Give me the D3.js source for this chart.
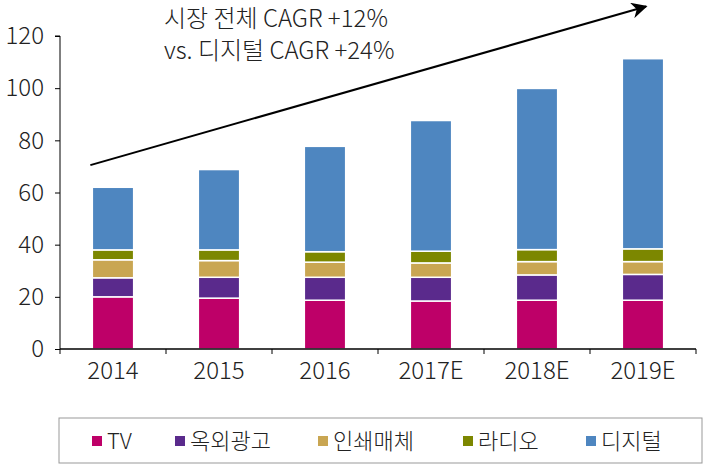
<!DOCTYPE html>
<html>
<head>
<meta charset="utf-8">
<script src="https://cdn.jsdelivr.net/npm/d3@7/dist/d3.min.js"></script>
<style>
  html, body { margin: 0; padding: 0; background: #fff; }
  svg text { font-family: "Noto Sans CJK KR", "Open Sans", sans-serif; font-weight: 300; fill: #222; }
</style>
</head>
<body>
<svg id="chart" width="704" height="469"></svg>
<script>
const categories = ["2014", "2015", "2016", "2017E", "2018E", "2019E"];
const seriesNames = ["TV", "옥외광고", "인쇄매체", "라디오", "디지털"];
const tv      = [20.0, 19.5, 18.7, 18.4, 18.7, 18.7];
const outdoor = [7.3, 8.0, 8.8, 9.1, 9.7, 9.9];
const print   = [6.9, 6.4, 5.8, 5.5, 5.1, 4.9];
const radio   = [3.8, 4.1, 4.0, 4.5, 4.6, 4.9];
const digital = [24.0, 30.8, 40.4, 50.1, 61.8, 72.9];
const yTicks  = [0, 20, 40, 60, 80, 100, 120];
const titleLines = ["시장 전체 CAGR +12%", "vs. 디지털 CAGR +24%"];
const colors = ["#BE0068", "#5A2A8C", "#C9A652", "#7C8700", "#4E86C0"];

const seriesValues = [tv, outdoor, print, radio, digital];
const table = categories.map((c, i) => {
  const row = { cat: c };
  seriesNames.forEach((s, j) => row[s] = seriesValues[j][i]);
  return row;
});

const svg = d3.select("#chart");
const mLeft = 60, mRight = 696, mTop = 36, mBottom = 349;

const x = d3.scaleBand().domain(categories).range([mLeft, mRight]).padding(0);
const y = d3.scaleLinear().domain([0, 120]).range([mBottom, mTop]);
const barW = x.bandwidth() * 0.39;

const stack = d3.stack().keys(seriesNames)(table);

svg.append("g").selectAll("g").data(stack).join("g")
  .attr("fill", (d, i) => colors[i])
  .selectAll("rect").data(d => d).join("rect")
  .attr("x", d => x(d.data.cat) + (x.bandwidth() - barW) / 2)
  .attr("width", barW)
  .attr("y", d => y(d[1]))
  .attr("height", d => y(d[0]) - y(d[1]))
  .attr("stroke", "#fff")
  .attr("stroke-width", 1.5);

// Y axis
const yAxis = svg.append("g").attr("transform", `translate(${mLeft},0)`)
  .call(d3.axisLeft(y).tickValues(yTicks).tickSize(5).tickPadding(11));
yAxis.select(".domain").attr("stroke", "#000").attr("d", `M-5,${mTop}H0V${mBottom}`);
yAxis.selectAll(".tick line").attr("stroke", "#000");
yAxis.selectAll(".tick text").style("font-size", "24px").attr("fill", "#222");

// X axis
const xAxis = svg.append("g").attr("transform", `translate(0,${mBottom})`)
  .call(d3.axisBottom(x).tickSize(0).tickPadding(13));
xAxis.select(".domain").attr("stroke", "#000").attr("stroke-width", 1.3).attr("d", `M${mLeft},0H${mRight}`);
xAxis.selectAll(".tick text").style("font-size", "24px").attr("fill", "#222");
const boundaries = categories.map(c => x(c)).concat([x(categories[categories.length - 1]) + x.bandwidth()]);
svg.append("g").selectAll("line").data(boundaries).join("line")
  .attr("x1", d => d).attr("x2", d => d)
  .attr("y1", mBottom).attr("y2", mBottom + 5)
  .attr("stroke", "#000");

// Arrow annotation
svg.append("defs").append("marker")
  .attr("id", "arrow").attr("viewBox", "0 0 10 10")
  .attr("refX", 9).attr("refY", 5)
  .attr("markerWidth", 16).attr("markerHeight", 16)
  .attr("markerUnits", "userSpaceOnUse")
  .attr("orient", "auto")
  .append("path").attr("d", "M0,0L10,5L0,10L3,5Z").attr("fill", "#000");
const xStart = x(categories[0]) + (x.bandwidth() - barW) / 2 - 2;
const xEnd = x(categories[5]) + x.bandwidth() / 2 + 3;
svg.append("line")
  .attr("x1", xStart).attr("y1", y(70.5))
  .attr("x2", xEnd).attr("y2", y(131.3))
  .attr("stroke", "#000").attr("stroke-width", 2)
  .attr("marker-end", "url(#arrow)");

// Title annotation
svg.append("g").selectAll("text").data(titleLines).join("text")
  .attr("x", 164).attr("y", (d, i) => 27 + i * 32)
  .style("font-size", "24px")
  .text(d => d);

// Legend
const lg = svg.append("g");
lg.append("rect").attr("x", 59).attr("y", 418).attr("width", 643).attr("height", 45)
  .attr("fill", "#fff").attr("stroke", "#999").attr("stroke-width", 1);
const legendX = [92, 175, 318, 463, 586];
const items = lg.selectAll("g.item").data(seriesNames).join("g")
  .attr("class", "item")
  .attr("transform", (d, i) => `translate(${legendX[i]},441)`);
items.append("rect").attr("x", 0).attr("y", -5).attr("width", 10).attr("height", 10)
  .attr("fill", (d, i) => colors[i]);
items.append("text").attr("x", 15).attr("y", 0).attr("dy", "0.35em")
  .style("font-size", "22px").text(d => d);
</script>
</body>
</html>
